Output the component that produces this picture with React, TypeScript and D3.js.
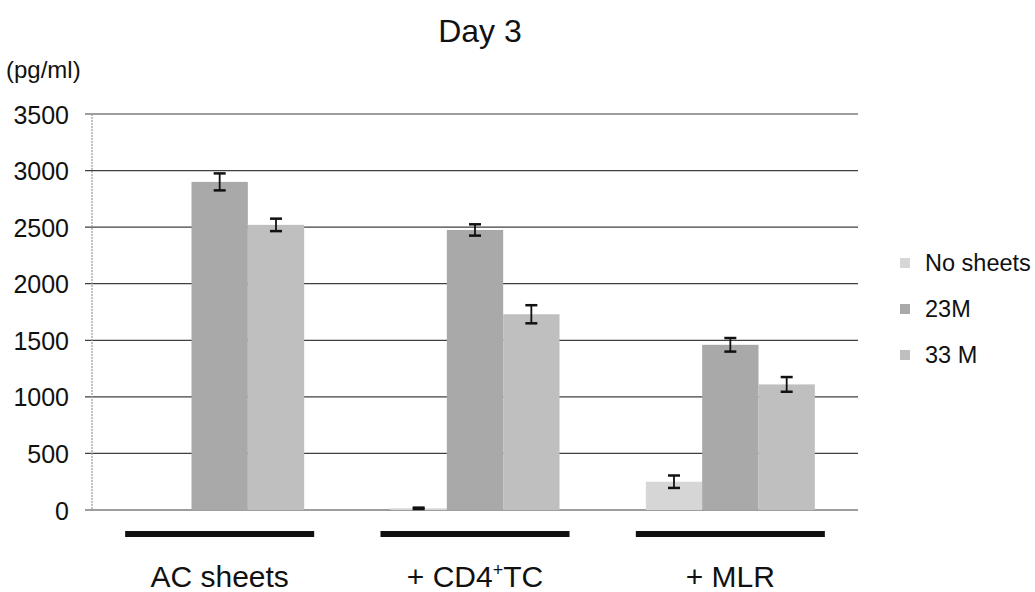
import React from 'react';
import * as d3 from 'd3';

const categories = ['AC sheets', '+ CD4⁺TC', '+ MLR'];
const seriesNames = ['No sheets', '23M', '33 M'];
const noSheets = [0, 15, 250];
const noSheetsErr = [0, 6, 55];
const m23 = [2900, 2475, 1460];
const m23Err = [75, 50, 60];
const m33 = [2520, 1730, 1110];
const m33Err = [55, 80, 65];
const yTicks = [0, 500, 1000, 1500, 2000, 2500, 3000, 3500];

const colors = ['#d6d6d6', '#a9a9a9', '#bfbfbf'];
const font = '"Liberation Sans", Arial, sans-serif';

export default function App() {
  const width = 1035;
  const height = 592;
  const values = [noSheets, m23, m33];
  const errs = [noSheetsErr, m23Err, m33Err];

  const x = d3
    .scaleBand()
    .domain(categories)
    .range([92, 858])
    .paddingInner(0.338)
    .paddingOuter(0.169);
  const xs = d3
    .scaleBand()
    .domain(seriesNames)
    .range([0, x.bandwidth()]);
  const y = d3.scaleLinear().domain([0, 3500]).range([510, 114]);

  const renderLabel = (c) => {
    const parts = c.split('⁺');
    if (parts.length === 1) return c;
    return (
      <>
        {parts[0]}
        <tspan fontSize={18} dy={-11}>+</tspan>
        <tspan dy={11}>{parts[1]}</tspan>
      </>
    );
  };

  return (
    <svg width={width} height={height} style={{ position: 'absolute', left: 0, top: 0 }} fontFamily={font}>
      <rect width={width} height={height} fill="#fff" />
      <text x={480} y={42} textAnchor="middle" fontSize={32} fill="#111">Day 3</text>
      <text x={6} y={78} fontSize={24} fill="#111">(pg/ml)</text>

      {/* grid + ticks */}
      {yTicks.map(t => (
        <g key={t}>
          <line x1={85} x2={858} y1={y(t)} y2={y(t)} stroke="#3f3f3f" strokeWidth={1.2} />
          <text x={69} y={y(t)} dy="0.38em" textAnchor="end" fontSize={25} fill="#111">{t}</text>
        </g>
      ))}
      <line x1={92} x2={92} y1={y(3500)} y2={y(0)} stroke="#999" strokeWidth={1.2} strokeDasharray="2,1" />

      {/* bars */}
      {categories.map((c, i) => (
        <g key={c} transform={`translate(${x(c)},0)`}>
          {seriesNames.map((s, j) => (
            <rect
              key={s}
              x={xs(s)}
              y={y(values[j][i])}
              width={xs.bandwidth()}
              height={y(0) - y(values[j][i])}
              fill={colors[j]}
            />
          ))}
          {seriesNames.map((s, j) => {
            const e = errs[j][i];
            if (!e) return null;
            const cx = xs(s) + xs.bandwidth() / 2;
            const top = y(values[j][i] + e);
            const bot = y(values[j][i] - e);
            return (
              <g key={s} stroke="#111">
                <line x1={cx} x2={cx} y1={top} y2={bot} strokeWidth={1.8} />
                <line x1={cx - 6} x2={cx + 6} y1={top} y2={top} strokeWidth={2.5} />
                <line x1={cx - 6} x2={cx + 6} y1={bot} y2={bot} strokeWidth={2.5} />
              </g>
            );
          })}
          <rect x={-10} y={531} width={x.bandwidth() + 20} height={6} fill="#111" />
          <text x={x.bandwidth() / 2} y={587} textAnchor="middle" fontSize={30} fill="#111">
            {renderLabel(c)}
          </text>
        </g>
      ))}

      {/* legend */}
      {seriesNames.map((s, j) => (
        <g key={s} transform={`translate(900,${263 + j * 46})`}>
          <rect x={0} y={-5} width={10} height={10} fill={colors[j]} />
          <text x={25} y={0} dy="0.36em" fontSize={23.5} fill="#111">{s}</text>
        </g>
      ))}
    </svg>
  );
}
